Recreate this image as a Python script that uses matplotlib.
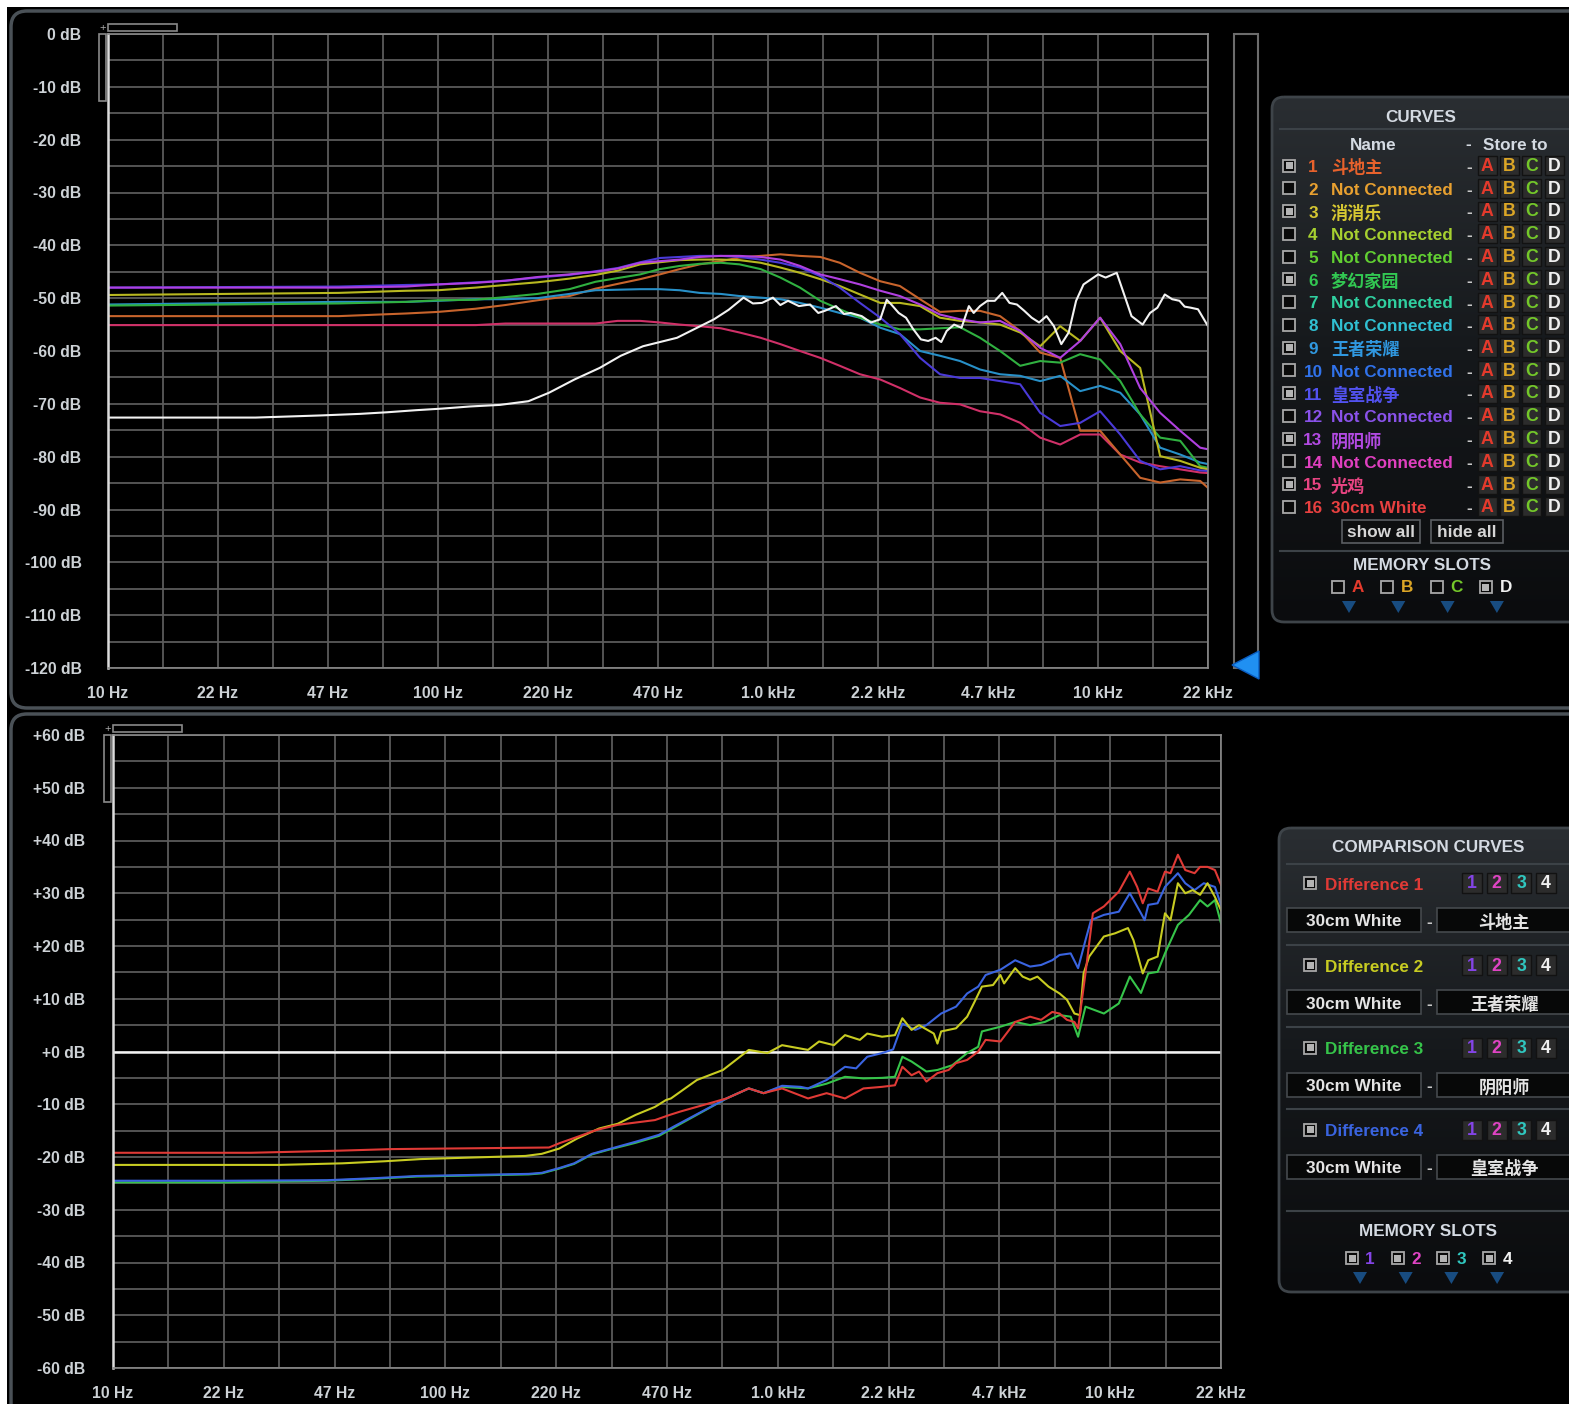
import numpy as np
import matplotlib.pyplot as plt
from matplotlib.patches import Rectangle, FancyBboxPatch, Polygon
from matplotlib.colors import LinearSegmentedColormap
from matplotlib.ticker import NullFormatter

plt.rcParams['font.family'] = ['Liberation Sans', 'Noto Sans CJK SC', 'DejaVu Sans']

W, H = 1569, 1404

# ---------------- data: top plot (dB vs Hz) ----------------
f_lo = [10, 50, 80, 100, 130, 160, 200, 250, 300, 350]
f_hi = [410, 470, 540, 620, 720, 820, 950, 1090, 1250, 1440, 1650, 1900, 2190, 2510,
        2890, 3320, 3820, 4390, 5050, 5810, 6680, 7680, 8830, 10150, 11680, 13420,
        15430, 17750, 20400, 21540]
freqs = f_lo + f_hi

doudizhu = [-53.4, -53.4, -52.9, -52.6, -52.0, -51.3, -50.4, -49.6, -48.2, -47.3,
            -46.4, -45.5, -44.5, -43.6, -43.0, -42.3, -42.0, -41.7, -42.0, -42.2,
            -43.3, -45.2, -46.8, -47.7, -50.2, -52.6, -52.4, -52.4, -53.4, -56.2,
            -60.3, -61.3, -75.1, -75.1, -79.6, -84.0, -84.9, -84.3, -84.6, -85.9]
xiaoxiaole = [-49.4, -49.0, -48.6, -48.5, -48.0, -47.5, -47.0, -46.3, -45.6, -44.8,
              -43.6, -43.2, -42.8, -42.7, -42.7, -42.8, -43.3, -44.2, -45.2, -46.4,
              -47.7, -49.3, -50.9, -50.9, -51.5, -53.7, -54.3, -54.6, -55.0, -56.5,
              -59.1, -55.3, -58.1, -53.7, -60.0, -63.2, -79.9, -80.8, -82.1, -82.4]
mengjia = [-51.4, -51.0, -50.7, -50.4, -50.3, -49.8, -49.2, -48.3, -46.9, -46.2,
           -45.5, -44.5, -43.9, -43.5, -43.3, -43.6, -44.5, -46.1, -48.0, -50.5,
           -52.1, -53.7, -55.0, -55.9, -55.9, -55.7, -55.5, -57.5, -60.0, -62.8,
           -61.9, -62.2, -60.6, -61.6, -65.7, -72.0, -76.4, -77.0, -81.8, -82.1]
wangzhe = [-51.2, -50.7, -50.7, -50.5, -50.2, -50.2, -50.0, -49.2, -48.5, -48.4,
           -48.3, -48.3, -48.5, -49.0, -49.2, -49.6, -49.9, -50.2, -50.9, -51.8,
           -52.8, -53.7, -55.6, -56.8, -60.0, -60.9, -61.9, -63.5, -64.4, -64.7,
           -65.7, -64.7, -67.6, -66.6, -67.9, -72.0, -78.3, -79.6, -81.1, -81.4]
huangshi = [-48.0, -47.8, -47.5, -47.4, -47.0, -46.7, -46.1, -45.6, -44.9, -44.3,
            -43.2, -42.4, -42.2, -42.0, -42.0, -42.2, -42.7, -43.3, -44.2, -45.8,
            -48.0, -50.9, -53.7, -56.8, -61.3, -64.4, -65.1, -65.1, -65.7, -66.3,
            -71.7, -74.2, -73.6, -71.4, -75.8, -80.8, -82.4, -81.8, -82.6, -82.7]
yinyang = [-48.0, -48.0, -47.8, -47.4, -47.1, -46.7, -46.0, -45.5, -45.0, -44.4,
           -43.3, -43.0, -42.7, -42.2, -42.0, -42.0, -42.2, -42.7, -43.9, -45.5,
           -46.4, -47.4, -48.6, -49.6, -51.2, -53.1, -54.0, -54.6, -54.3, -56.2,
           -59.4, -61.3, -58.1, -53.7, -58.7, -67.0, -71.7, -75.1, -78.3, -78.6]
guangji = [-55.1, -55.1, -55.1, -55.1, -55.1, -54.8, -54.8, -54.8, -54.8, -54.3,
           -54.3, -54.6, -55.0, -55.3, -55.7, -56.5, -57.5, -58.7, -60.0, -61.3,
           -62.8, -64.4, -65.4, -67.0, -68.8, -69.8, -70.1, -71.4, -72.0, -73.6,
           -76.4, -77.7, -75.8, -75.8, -79.6, -81.1, -81.8, -82.4, -83.0, -83.1]

white_f = [10, 28, 44, 58, 70, 86, 103, 125, 154, 188, 217, 259, 309, 358, 418, 530, 686,
           760, 843, 900, 959, 1035, 1090, 1150, 1241, 1341, 1420, 1486, 1606, 1700, 1780,
           1923, 2050, 2188, 2290, 2364, 2489, 2619, 2750, 2906, 3058, 3220, 3350, 3479,
           3664, 3858, 4062, 4200, 4389, 4622, 4868, 5126, 5393, 5679, 5980, 6297, 6630,
           6982, 7352, 7741, 8151, 8583, 9039, 10014, 10544, 11395, 12000, 12634, 13651,
           14375, 15136, 15937, 16780, 17660, 18300, 19082, 20092, 21544]
white_db = [-72.6, -72.6, -72.2, -71.9, -71.6, -71.2, -70.9, -70.5, -70.2, -69.5, -67.9,
            -65.4, -63.2, -60.9, -59.1, -57.5, -54.0, -52.2, -49.9, -51.0, -50.9, -49.9,
            -51.3, -50.5, -51.5, -51.2, -52.8, -52.4, -51.5, -53.0, -52.8, -53.4, -54.6,
            -54.0, -50.3, -51.2, -52.8, -53.7, -55.8, -57.8, -58.1, -57.5, -58.3, -56.2,
            -55.0, -55.6, -51.5, -52.8, -51.5, -50.5, -50.5, -49.0, -50.9, -51.2, -52.4,
            -53.7, -54.6, -53.4, -55.3, -58.7, -56.5, -50.5, -47.4, -45.5, -46.1, -45.2,
            -49.3, -53.4, -55.0, -52.8, -51.8, -49.3, -50.2, -50.5, -51.6, -51.8, -52.1,
            -55.3]

# ---------------- data: bottom plot (differences) ----------------
d1_f = [10, 26, 48, 69, 205, 220, 249, 284, 330, 427, 474, 508, 701, 818, 906, 1030, 1233,
        1402, 1593, 1810, 2059, 2251, 2370, 2526, 2660, 2800, 3022, 3265, 3437, 3712, 4008,
        4218, 4674, 5178, 5741, 6196, 6692, 7042, 7413, 7803, 8006, 8426, 8869, 9572,
        10612, 11455, 12055, 12530, 13016, 13885, 14615, 15185, 15983, 16820, 17943,
        18637, 19624, 20654, 21544]
d1_db = [-19.2, -19.2, -18.8, -18.5, -18.2, -17.4, -16.2, -14.9, -13.9, -13.0, -12.0, -11.4,
         -8.9, -7.0, -7.9, -7.0, -8.9, -7.9, -8.9, -7.0, -6.7, -6.4, -2.9, -4.5, -3.8, -5.7,
         -4.1, -3.5, -2.2, -1.6, 0.0, 2.2, 1.9, 5.6, 6.6, 6.0, 7.5, 7.2, 6.0, 5.6, 4.4, 14.8,
         26.2, 27.5, 30.3, 34.1, 31.2, 28.1, 30.9, 30.3, 34.1, 33.8, 37.3, 34.4, 33.8, 35.0,
         35.0, 34.4, 31.6]
d2_f = [10, 31.6, 49, 66, 84, 120, 174, 195, 220, 249, 290, 330, 374, 427, 461, 477, 571,
        684, 818, 930, 1030, 1233, 1331, 1475, 1593, 1765, 1858, 2059, 2251, 2370, 2526,
        2660, 2947, 3022, 3100, 3437, 3712, 3906, 4112, 4441, 4674, 4795, 5178, 5451, 5741,
        6040, 6522, 7042, 7413, 7803, 8110, 8318, 8646, 9572, 10337, 11310, 11750, 12530,
        13016, 13885, 14615, 15185, 15983, 16820, 17710, 18637, 19624, 20654, 21544]
d2_db = [-21.5, -21.5, -21.2, -20.8, -20.4, -20.1, -19.8, -19.4, -18.4, -16.5, -14.6, -13.7,
         -12.0, -10.5, -9.2, -8.9, -5.4, -3.5, 0.3, -0.3, 1.2, 0.3, 1.9, 1.2, 3.1, 2.2, 3.4,
         2.8, 3.1, 6.3, 4.1, 5.0, 3.4, 1.5, 3.8, 4.4, 6.6, 9.4, 12.3, 12.6, 14.5, 12.9, 15.8,
         14.2, 13.6, 14.2, 12.3, 11.0, 9.8, 7.2, 6.9, 14.8, 18.0, 21.8, 22.4, 23.4, 21.1,
         14.8, 17.3, 18.0, 26.2, 24.9, 31.9, 30.0, 30.6, 29.7, 31.9, 29.3, 26.8]
d3_f = [10, 22, 44, 62, 82, 178, 195, 220, 244, 276, 315, 374, 439, 484, 701, 818, 906, 1030,
        1233, 1402, 1593, 1810, 2059, 2251, 2370, 2526, 2800, 3022, 3350, 3712, 4008, 4112,
        4674, 5178, 5741, 6357, 7042, 7605, 8006, 8426, 9572, 10612, 11455, 12376, 13016,
        13885, 14615, 15983, 17258, 18637, 19624, 20654, 21544]
d3_db = [-24.8, -24.8, -24.5, -24.1, -23.7, -23.3, -23.1, -22.2, -21.3, -19.5, -18.5, -17.3,
         -16.0, -14.5, -8.9, -7.0, -7.9, -6.7, -7.0, -6.1, -4.8, -5.1, -5.0, -4.8, -1.0, -1.9,
         -3.8, -3.5, -2.6, -0.3, 0.9, 3.8, 4.7, 5.6, 5.0, 5.6, 6.9, 6.6, 2.8, 8.5, 7.2, 9.1,
         14.2, 11.1, 14.8, 15.1, 18.6, 24.0, 25.9, 28.7, 27.5, 28.7, 24.3]
d4_f = [10, 22, 44, 62, 82, 178, 195, 220, 244, 276, 315, 374, 439, 484, 701, 818, 906, 1030,
        1171, 1233, 1402, 1593, 1720, 1858, 2059, 2223, 2370, 2592, 2800, 3100, 3437, 3712,
        4008, 4218, 4674, 5178, 5741, 6196, 6692, 7042, 7605, 8006, 8426, 8754, 9572, 10612,
        11455, 12376, 12694, 13016, 13885, 14615, 15983, 16820, 17943, 19122, 20654, 21544]
d4_db = [-24.5, -24.5, -24.4, -24.0, -23.6, -23.2, -23.0, -22.1, -21.2, -19.4, -18.4, -17.1,
         -15.8, -14.3, -8.9, -7.0, -7.9, -6.5, -6.7, -7.0, -5.4, -2.9, -3.2, -1.0, -0.3, 0.4,
         5.3, 4.1, 5.0, 7.2, 8.5, 11.0, 12.3, 14.5, 15.5, 17.3, 16.1, 16.4, 17.3, 18.3, 18.6,
         15.8, 21.1, 24.9, 25.9, 26.5, 30.0, 26.2, 24.9, 27.8, 28.1, 31.2, 33.8, 31.9, 30.6,
         31.9, 31.2, 27.8]

# ---------------- labels ----------------
freq_labels = ['10 Hz', '22 Hz', '47 Hz', '100 Hz', '220 Hz', '470 Hz', '1.0 kHz',
               '2.2 kHz', '4.7 kHz', '10 kHz', '22 kHz']
top_db_ticks = list(range(0, -121, -10))
bot_db_ticks = list(range(60, -61, -10))

curve_names = ['斗地主', 'Not Connected', '消消乐', 'Not Connected', 'Not Connected',
               '梦幻家园', 'Not Connected', 'Not Connected', '王者荣耀', 'Not Connected',
               '皇室战争', 'Not Connected', '阴阳师', 'Not Connected', '光鸡', '30cm White']
curve_shown = [1, 0, 1, 0, 0, 1, 0, 0, 1, 0, 1, 0, 1, 0, 1, 0]
name_colors = ['#e8622c', '#e8a030', '#d6c832', '#a6d030', '#62d032', '#32c852',
               '#30d0a0', '#30c0d2', '#3098e0', '#3072ea', '#5252f0', '#8a52ea',
               '#b24ae2', '#e040c0', '#e84482', '#e84040']
store_letters = ['A', 'B', 'C', 'D']
store_colors = ['#e43a2c', '#dca626', '#74c82a', '#f0f0f0']

diff_labels = ['Difference 1', 'Difference 2', 'Difference 3', 'Difference 4']
diff_colors = ['#e03a36', '#c8cc22', '#36c44a', '#3a64e0']
diff_targets = ['斗地主', '王者荣耀', '阴阳师', '皇室战争']
slot_digits = ['1', '2', '3', '4']
slot_colors = ['#8444e6', '#e044c4', '#30c8c0', '#f0f0f0']

# ---------------- figure ----------------
fig = plt.figure(figsize=(W / 100, H / 100), dpi=100, facecolor='white')


def px(x0, y0, x1, y1):
    return [x0 / W, 1 - y1 / H, (x1 - x0) / W, (y1 - y0) / H]


bg = fig.add_axes([0, 0, 1, 1], zorder=0)
bg.set_xlim(0, W)
bg.set_ylim(H, 0)
bg.axis('off')
bg.add_patch(Rectangle((7, 7), W, H, facecolor='black', edgecolor='none'))
for y0, y1 in [(11, 708), (714, H + 40)]:
    bg.add_patch(FancyBboxPatch((11, y0), W + 40, y1 - y0,
                                boxstyle='round,pad=0,rounding_size=16',
                                facecolor='black', edgecolor='#4a5157', lw=2.5))

xmax = 10 * 10 ** (20 / 6)
major_f = [10 * 10 ** (k / 3) for k in range(11)]
minor_f = [10 * 10 ** ((2 * k + 1) / 6) for k in range(10)]
tick_col = '#cdd2d6'


def style_axes(ax, yticks, ylabels, ymin, ymax, ypad):
    ax.set_facecolor('black')
    ax.set_xscale('log')
    ax.set_xlim(10, xmax)
    ax.set_ylim(ymin, ymax)
    ax.set_xticks(major_f)
    ax.set_xticklabels(freq_labels, fontweight='bold')
    ax.set_xticks(minor_f, minor=True)
    ax.xaxis.set_minor_formatter(NullFormatter())
    ax.set_yticks(yticks)
    ax.set_yticklabels(ylabels, fontweight='bold')
    ax.set_yticks(np.arange(ymin + 5, ymax, 10), minor=True)
    ax.grid(which='both', color='#5a5a5a', lw=1.3)
    ax.set_axisbelow(True)
    ax.tick_params(which='both', length=0, labelcolor=tick_col, labelsize=11.3)
    ax.tick_params(axis='y', pad=ypad)
    ax.tick_params(axis='x', pad=13)
    for s in ['top', 'right', 'bottom']:
        ax.spines[s].set_color('#8a8a8a')
        ax.spines[s].set_linewidth(1.2)
    ax.spines['left'].set_color('#dcdcdc')
    ax.spines['left'].set_linewidth(1.8)


# top plot
ax1 = fig.add_axes(px(108, 34, 1208, 668), zorder=5)
style_axes(ax1, top_db_ticks, ['%d dB' % v for v in top_db_ticks], -120, 0, 19)
ax1.plot(freqs, guangji, color='#d03068', lw=1.5)
ax1.plot(freqs, doudizhu, color='#c8642c', lw=1.5)
ax1.plot(freqs, wangzhe, color='#2890c8', lw=1.5)
ax1.plot(freqs, mengjia, color='#30b040', lw=1.5)
ax1.plot(freqs, xiaoxiaole, color='#b8b820', lw=1.5)
ax1.plot(freqs, huangshi, color='#4a3ad8', lw=1.5)
ax1.plot(freqs, yinyang, color='#b040e0', lw=1.5)
ax1.plot(white_f, white_db, color='#f2f2f2', lw=1.5)

# bottom plot
ax2 = fig.add_axes(px(113, 735, 1221, 1368), zorder=5)
bot_labels = ['%+d dB' % v if v != 0 else '+0 dB' for v in bot_db_ticks]
style_axes(ax2, bot_db_ticks, bot_labels, -60, 60, 20)
ax2.axhline(0, color='#f4f4f4', lw=1.8)
ax2.plot(d3_f, d3_db, color=diff_colors[2], lw=1.5)
ax2.plot(d4_f, d4_db, color=diff_colors[3], lw=1.5)
ax2.plot(d2_f, d2_db, color=diff_colors[1], lw=1.5)
ax2.plot(d1_f, d1_db, color=diff_colors[0], lw=1.5)

# ---------------- overlay: panels and controls ----------------
ov = fig.add_axes([0, 0, 1, 1], zorder=10)
ov.axis('off')

FS = 12.3   # panel text size
DY = 2      # small downward nudge for panel text


def label(x, y, s, color, ha='center', weight='bold'):
    ov.text(x, y + DY, s, ha=ha, va='center', fontsize=FS, color=color,
            fontweight=weight, zorder=5)


edge = '#8a8a8a'
# small corner handles
for (vx, vy, hx, hy) in [(99, 34, 108, 24), (104, 735, 113, 725)]:
    ov.add_patch(Rectangle((vx, vy), 7, 67, fill=False, edgecolor=edge, lw=1.2))
    ov.add_patch(Rectangle((hx, hy), 69, 7, fill=False, edgecolor=edge, lw=1.2))
    ov.text(vx + 3.5, hy + 4, '+', ha='center', va='center', fontsize=8, color='#aaaaaa')

# scroll bar of the top plot
ov.add_patch(Rectangle((1234, 34), 24, 634, fill=False, edgecolor='#6c6c6c', lw=1.5))
ov.add_patch(Polygon([(1232, 665), (1259, 651), (1259, 679)], closed=True,
                     facecolor='#2090f2', edgecolor='#0a5cc0', lw=1))

panel_cmap = LinearSegmentedColormap.from_list('panel', ['#2a2e32', '#15181b', '#0b0c0e'])


def panel(x0, y0, x1, y1):
    shape = FancyBboxPatch((x0, y0), x1 - x0, y1 - y0,
                           boxstyle='round,pad=0,rounding_size=12',
                           facecolor='none', edgecolor='none')
    ov.add_patch(shape)
    grad = np.linspace(0, 1, 256)[:, None]
    im = ov.imshow(grad, extent=(x0, x1, y1, y0), cmap=panel_cmap, aspect='auto', zorder=1)
    im.set_clip_path(shape)
    ov.add_patch(FancyBboxPatch((x0, y0), x1 - x0, y1 - y0,
                                boxstyle='round,pad=0,rounding_size=12',
                                facecolor='none', edgecolor='#3e4449', lw=2, zorder=2))


def checkbox(x, y, on):
    ov.add_patch(Rectangle((x - 6, y - 6), 12, 12, facecolor='#0a0a0a',
                           edgecolor='#a8a8a8', lw=1.3, zorder=3))
    if on:
        ov.add_patch(Rectangle((x - 3.5, y - 3.5), 7, 7, facecolor='#b4b4b4',
                               edgecolor='none', zorder=4))


def keybox(x, y, ch, color, size=20):
    ov.add_patch(Rectangle((x - size / 2, y - size / 2), size, size, facecolor='#2c2c2c',
                           edgecolor='#121212', lw=1, zorder=3))
    ov.text(x, y + 1, ch, ha='center', va='center', fontsize=FS + 0.5, color=color,
            fontweight='bold', zorder=4)


def triangle(x, y):
    ov.add_patch(Polygon([(x - 7, y - 6), (x + 7, y - 6), (x, y + 6)], closed=True,
                         facecolor='#184c80', edgecolor='none', zorder=3))


hdr = '#d4dae2'
# CURVES panel
panel(1272, 97, W + 30, 622)
label(1421, 116, 'CURVES', hdr)
ov.plot([1280, W], [129, 129], color='#3c4247', lw=1.5, zorder=3)
label(1373, 143, 'Name', hdr)
label(1468, 143, '-', hdr)
label(1515, 143, 'Store to', hdr)
for i, name in enumerate(curve_names):
    y = 165.5 + i * 22.75
    checkbox(1289, y, curve_shown[i])
    label(1313, y, str(i + 1), name_colors[i])
    label(1331, y, name, name_colors[i], ha='left')
    label(1469, y, '-', '#c8c8c8')
    for j, ch in enumerate(store_letters):
        keybox(1487 + j * 22.4, y, ch, store_colors[j], size=19)

for x0, x1, txt in [(1342, 1420, 'show all'), (1431, 1503, 'hide all')]:
    ov.add_patch(Rectangle((x0, 520), x1 - x0, 23, facecolor='#0e0f10',
                           edgecolor='#5a5e62', lw=1.2, zorder=3))
    label((x0 + x1) / 2, 530.5, txt, '#d6d6d6')
ov.plot([1280, W], [551, 551], color='#3c4247', lw=1.5, zorder=3)
label(1422, 564, 'MEMORY SLOTS', hdr)
for j, ch in enumerate(store_letters):
    cx = 1338 + j * 49.3
    checkbox(cx, 587, j == 3)
    label(cx + 20, 586, ch, store_colors[j])
    triangle(cx + 11, 607)

# COMPARISON CURVES panel
panel(1279, 828, W + 30, 1292)
label(1428, 846, 'COMPARISON CURVES', hdr)
for yy in [864, 945, 1027, 1109, 1211]:
    ov.plot([1287, W], [yy, yy], color='#3c4247', lw=1.5, zorder=3)
for k in range(4):
    yh = 883 + k * 82.3
    yb = yh + 37
    checkbox(1310, yh, True)
    label(1325, yh, diff_labels[k], diff_colors[k], ha='left')
    for j, ch in enumerate(slot_digits):
        keybox(1472 + j * 24.6, yh, ch, slot_colors[j])
    ov.add_patch(Rectangle((1287, yb - 12), 134, 24, facecolor='#070808',
                           edgecolor='#45494d', lw=1.2, zorder=3))
    label(1354, yb, '30cm White', '#e4e4e4')
    label(1429, yb, '-', '#c8c8c8')
    ov.add_patch(Rectangle((1437, yb - 12), 150, 24, facecolor='#070808',
                           edgecolor='#45494d', lw=1.2, zorder=3))
    label(1504, yb, diff_targets[k], '#e4e4e4')
label(1428, 1230, 'MEMORY SLOTS', hdr)
for j, ch in enumerate(slot_digits):
    cx = 1352 + j * 45.7
    checkbox(cx, 1258, True)
    label(cx + 18, 1257, ch, slot_colors[j])
    triangle(cx + 8, 1278)

ov.set_xlim(0, W)
ov.set_ylim(H, 0)

fig.savefig('out.png', dpi=100, facecolor='white')
